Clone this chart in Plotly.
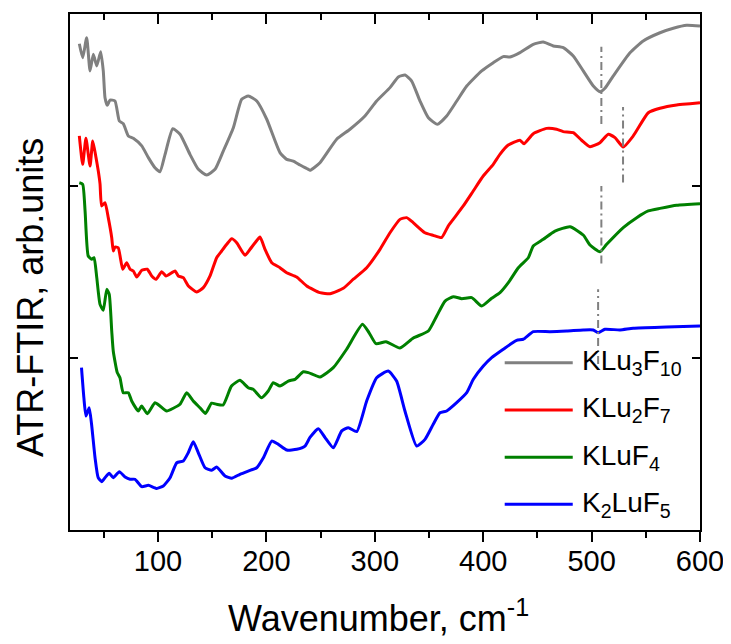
import plotly.graph_objects as go

# ---------------- data (wavenumber, cm-1 ; offset ATR-FTIR intensity, arb. units) ----------------
wn_klu3f10 = [27.4, 30.5, 34.2, 37.3, 40.3, 43.5, 47.1, 49.5, 51.1, 53.2, 55.7, 60.3, 64.3, 68.0, 72.6,
              77.2, 85.0, 91.1, 97.2, 101.8, 106.5, 113.6, 120.3, 129.5, 137.2, 144.9, 152.6, 160.2,
              169.5, 177.2, 183.3, 191.1, 200.3, 212.5, 218.7, 224.8, 231.0, 238.7, 240.2, 249.4,
              264.8, 277.1, 290.9, 301.7, 314.0, 321.7, 327.9, 334.0, 341.7, 349.4, 357.7, 366.3,
              375.6, 384.8, 398.6, 409.3, 418.5, 424.7, 433.9, 446.2, 455.4, 464.7, 473.9, 483.1,
              492.3, 501.6, 507.7, 512.3, 520.0, 535.4, 547.6, 563.1, 575.4, 587.7, 600.0]
int_klu3f10 = [2.827, 2.746, 2.862, 2.669, 2.766, 2.698, 2.781, 2.669, 2.513, 2.469, 2.500, 2.494, 2.378,
               2.362, 2.291, 2.277, 2.233, 2.165, 2.106, 2.083, 2.184, 2.333, 2.301, 2.184, 2.097, 2.064,
               2.097, 2.203, 2.339, 2.504, 2.523, 2.494, 2.388, 2.194, 2.155, 2.145, 2.122, 2.097, 2.091,
               2.135, 2.272, 2.330, 2.407, 2.494, 2.572, 2.634, 2.645, 2.610, 2.494, 2.397, 2.359, 2.407,
               2.494, 2.581, 2.669, 2.717, 2.752, 2.750, 2.775, 2.824, 2.837, 2.814, 2.804, 2.756, 2.669,
               2.581, 2.548, 2.568, 2.640, 2.775, 2.843, 2.891, 2.917, 2.934, 2.930]

wn_klu2f7 = [27.4, 30.5, 33.5, 37.3, 39.8, 42.8, 44.9, 46.5, 48.0, 51.1, 54.1, 57.3, 58.7, 60.3, 63.3,
             67.4, 71.1, 74.2, 77.2, 80.4, 85.0, 90.1, 94.2, 98.2, 103.4, 107.4, 115.7, 118.7, 123.3,
             128.0, 135.7, 141.8, 148.0, 154.1, 158.7, 163.4, 168.0, 172.6, 180.3, 184.9, 189.5,
             194.1, 198.7, 204.9, 212.5, 218.7, 227.9, 237.2, 249.4, 258.7, 270.9, 280.2, 292.5,
             304.8, 314.0, 323.2, 329.4, 335.4, 346.2, 353.9, 361.6, 367.7, 372.3, 381.6, 390.8,
             400.0, 409.3, 415.4, 423.1, 433.9, 437.6, 446.2, 458.5, 467.7, 473.8, 483.1, 490.8,
             498.5, 507.7, 515.4, 521.6, 529.2, 538.4, 552.3, 563.1, 578.5, 590.8, 600.0]
int_klu2f7 = [2.291, 2.126, 2.277, 2.116, 2.262, 2.165, 2.087, 2.012, 1.884, 1.903, 1.816, 1.699, 1.622,
              1.645, 1.641, 1.516, 1.554, 1.516, 1.506, 1.471, 1.510, 1.516, 1.477, 1.458, 1.502, 1.477,
              1.506, 1.477, 1.467, 1.419, 1.384, 1.409, 1.477, 1.583, 1.622, 1.661, 1.694, 1.670, 1.597,
              1.632, 1.670, 1.703, 1.632, 1.554, 1.525, 1.496, 1.471, 1.419, 1.380, 1.374, 1.405, 1.458,
              1.525, 1.632, 1.728, 1.806, 1.816, 1.787, 1.728, 1.713, 1.700, 1.767, 1.806, 1.884, 1.971,
              2.058, 2.126, 2.184, 2.238, 2.266, 2.246, 2.304, 2.335, 2.330, 2.316, 2.310, 2.266, 2.228,
              2.252, 2.301, 2.281, 2.227, 2.291, 2.426, 2.452, 2.471, 2.478, 2.484]

wn_kluf4 = [27.4, 30.5, 32.7, 35.6, 38.8, 41.0, 43.5, 46.5, 49.5, 52.7, 55.0, 57.3, 58.7, 62.4, 64.9,
            67.9, 72.6, 75.7, 81.8, 84.9, 90.1, 97.2, 101.8, 108.0, 114.1, 120.3, 126.5, 132.5, 138.7,
            143.8, 149.4, 154.0, 160.1, 167.8, 175.5, 183.2, 187.8, 195.5, 201.7, 206.3, 212.5, 220.2,
            226.4, 234.0, 238.7, 249.4, 261.7, 274.0, 288.6, 294.6, 301.1, 310.3, 323.2, 335.5, 349.4,
            357.1, 364.8, 372.4, 380.2, 389.4, 398.6, 407.8, 415.5, 423.2, 432.4, 441.6, 446.2, 455.4,
            466.2, 480.1, 492.3, 498.5, 507.7, 513.9, 529.2, 541.6, 552.3, 563.1, 578.5, 600.0]
int_kluf4 = [2.019, 2.010, 1.855, 1.593, 1.574, 1.583, 1.467, 1.312, 1.277, 1.399, 1.370, 1.157, 1.041,
             0.915, 0.885, 0.798, 0.798, 0.750, 0.692, 0.721, 0.676, 0.740, 0.721, 0.692, 0.708, 0.731,
             0.798, 0.750, 0.711, 0.678, 0.737, 0.731, 0.727, 0.837, 0.870, 0.827, 0.818, 0.769, 0.808,
             0.856, 0.837, 0.866, 0.876, 0.920, 0.915, 0.890, 0.944, 1.051, 1.196, 1.148, 1.083, 1.095,
             1.058, 1.116, 1.157, 1.244, 1.331, 1.356, 1.345, 1.351, 1.302, 1.347, 1.380, 1.438, 1.525,
             1.583, 1.651, 1.690, 1.738, 1.763, 1.715, 1.657, 1.618, 1.661, 1.758, 1.816, 1.855, 1.870,
             1.888, 1.897]

wn_k2luf5 = [29.4, 31.6, 33.5, 36.5, 38.7, 41.9, 44.8, 48.1, 51.1, 55.0, 58.7, 64.3, 69.6, 74.2, 78.8,
             85.0, 91.1, 98.8, 104.9, 111.1, 117.3, 123.3, 127.9, 132.5, 137.2, 143.4, 149.5, 154.1,
             161.8, 168.0, 175.6, 184.9, 191.1, 197.2, 204.9, 211.0, 218.8, 228.0, 235.6, 240.2, 247.9,
             254.1, 261.7, 269.5, 275.6, 283.3, 292.5, 301.7, 312.4, 320.1, 327.8, 338.6, 346.3, 353.9,
             360.1, 366.3, 375.5, 384.8, 390.9, 400.1, 407.8, 418.5, 430.8, 436.9, 446.2, 461.6, 477.0,
             492.3, 501.5, 506.1, 512.3, 526.2, 538.4, 569.2, 600.0]
int_k2luf5 = [0.944, 0.769, 0.663, 0.711, 0.615, 0.420, 0.304, 0.281, 0.304, 0.330, 0.304, 0.339, 0.308,
              0.295, 0.295, 0.252, 0.260, 0.242, 0.256, 0.304, 0.391, 0.401, 0.449, 0.513, 0.449, 0.362,
              0.347, 0.366, 0.314, 0.301, 0.324, 0.347, 0.362, 0.420, 0.517, 0.498, 0.465, 0.469, 0.488,
              0.538, 0.589, 0.537, 0.478, 0.576, 0.595, 0.572, 0.750, 0.885, 0.924, 0.866, 0.692, 0.488,
              0.527, 0.615, 0.682, 0.692, 0.740, 0.798, 0.876, 0.953, 1.002, 1.051, 1.103, 1.109, 1.153,
              1.153, 1.157, 1.163, 1.163, 1.147, 1.167, 1.163, 1.173, 1.180, 1.186]

series_names = ["KLu<sub>3</sub>F<sub>10</sub>", "KLu<sub>2</sub>F<sub>7</sub>",
                "KLuF<sub>4</sub>", "K<sub>2</sub>LuF<sub>5</sub>"]
series_x = [wn_klu3f10, wn_klu2f7, wn_kluf4, wn_k2luf5]
series_y = [int_klu3f10, int_klu2f7, int_kluf4, int_k2luf5]
series_colors = ["#808080", "#ff0000", "#008000", "#0000ff"]

# dash-dot guide lines marking the ~510 cm-1 band
guide_wn = [509, 529, 509, 506]
guide_y0 = [2.36, 2.02, 1.55, 0.965]
guide_y1 = [2.81, 2.46, 2.00, 1.40]

x_tick_vals = [100, 200, 300, 400, 500, 600]
x_range = [18.8, 600]
y_range = [0, 3]

FONT = "Liberation Sans, Arial, sans-serif"

fig = go.Figure()
for xs, ys, col in zip(series_x, series_y, series_colors):
    fig.add_trace(go.Scatter(x=xs, y=ys, mode="lines", showlegend=False,
                             line=dict(color=col, width=3, shape="spline", smoothing=0.5)))

for gx, g0, g1 in zip(guide_wn, guide_y0, guide_y1):
    fig.add_trace(go.Scatter(x=[gx, gx], y=[g0, g1], mode="lines", showlegend=False, xaxis="x2",
                             line=dict(color="#808080", width=2, dash="8px,4px,2px,4px")))

# manual legend (long line samples like the original)
leg_rows = [0.324, 0.2326, 0.1409, 0.0498]
for name, col, ry in zip(series_names, series_colors, leg_rows):
    fig.add_shape(type="line", xref="paper", yref="paper", x0=0.690, x1=0.798, y0=ry, y1=ry,
                  line=dict(color=col, width=3))
    fig.add_annotation(text=name, xref="paper", yref="paper", x=0.809, y=ry, xanchor="left",
                       yanchor="middle", showarrow=False, font=dict(family=FONT, size=28, color="black"))

fig.add_annotation(text="ATR-FTIR, arb.units", xref="paper", yref="paper", x=-0.063, y=0.45,
                   textangle=-90, showarrow=False, xanchor="center", yanchor="middle",
                   font=dict(family=FONT, size=36, color="black"))
fig.add_annotation(text="Wavenumber, cm<sup>-1</sup>", xref="paper", yref="paper", x=0.49, y=-0.166,
                   showarrow=False, xanchor="center", yanchor="middle",
                   font=dict(family=FONT, size=36, color="black"))

# the page body adds an 8px offset, so the figure is 8px smaller and margins are shifted
fig.update_layout(
    width=723, height=636,
    margin=dict(l=62, r=31, t=6, b=114),
    paper_bgcolor="white", plot_bgcolor="white",
    font=dict(family=FONT, color="black"),
    xaxis=dict(range=x_range, tickvals=x_tick_vals, ticks="outside", ticklen=10, tickwidth=1.5,
               tickcolor="black", showline=True, linecolor="black", linewidth=1.5, mirror=True,
               showgrid=False, zeroline=False, automargin=False, tickfont=dict(size=29, family=FONT),
               ticklabelstandoff=-6,
               minor=dict(dtick=50, tick0=0, ticks="outside", ticklen=6, tickwidth=1.5, tickcolor="black")),
    xaxis2=dict(range=x_range, overlaying="x", side="top", matches="x", tickvals=x_tick_vals,
                ticks="inside", ticklen=10, tickwidth=1.5, tickcolor="black", showticklabels=False,
                showline=False, showgrid=False, zeroline=False, automargin=False,
                minor=dict(dtick=50, tick0=0, ticks="inside", ticklen=6, tickwidth=1.5, tickcolor="black")),
    yaxis=dict(range=y_range, tickvals=[1, 2], ticks="inside", ticklen=8, tickwidth=1.5,
               tickcolor="black", showticklabels=False, showline=True, linecolor="black",
               linewidth=1.5, mirror="ticks", showgrid=False, zeroline=False, automargin=False),
)

fig.write_html("out.html")
